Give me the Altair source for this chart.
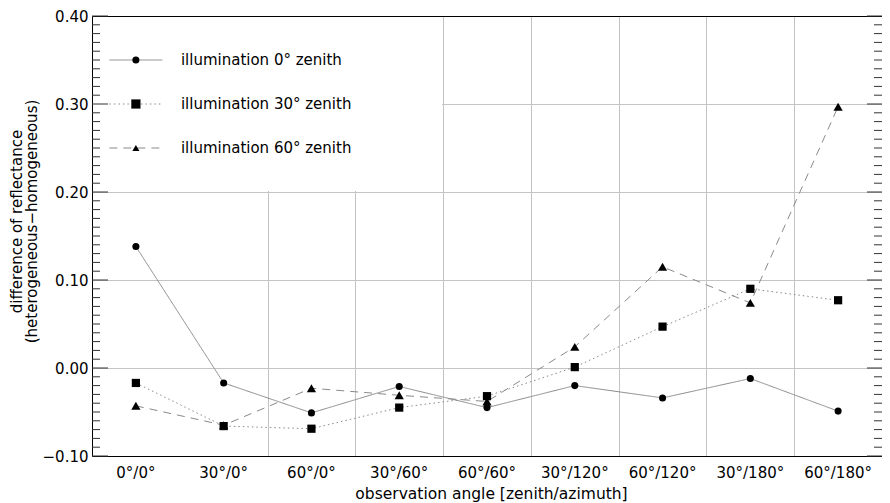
import altair as alt
import pandas as pd

# ---------------- data ----------------
obs = ["0°/0°", "30°/0°", "60°/0°", "30°/60°", "60°/60°",
       "30°/120°", "60°/120°", "30°/180°", "60°/180°"]
series = ["illumination 0° zenith", "illumination 30° zenith", "illumination 60° zenith"]
illum_0 = [0.138, -0.017, -0.051, -0.021, -0.045, -0.020, -0.034, -0.012, -0.049]
illum_30 = [-0.017, -0.066, -0.069, -0.045, -0.032, 0.001, 0.047, 0.090, 0.077]
illum_60 = [-0.043, -0.065, -0.023, -0.031, -0.038, 0.024, 0.115, 0.074, 0.297]
legend_y = [0.35, 0.30, 0.25]
y_labels = [-0.1, 0.0, 0.1, 0.2, 0.3, 0.4]
y_minor = [round(-0.1 + 0.01 * i, 2) for i in range(51) if i % 10 != 0]

df = pd.DataFrame({
    "obs": obs * 3,
    "series": [s for s in series for _ in obs],
    "value": illum_0 + illum_30 + illum_60,
})

W, H = 790, 440
FONT = "DejaVu Sans"
FS = 15
LINE_GREY = "#8a8a8a"
GRID_GREY = "#c4c4c4"

dashes = [[1, 0], [1.5, 3], [8, 6]]
shapes = ["circle", "square", "triangle-up"]
sizes = [50, 85, 50]

x_scale = alt.Scale(domain=obs, paddingInner=0, paddingOuter=0)
y_scale = alt.Scale(domain=[-0.1, 0.4], nice=False, zero=False)

y_axis = alt.Axis(
    values=y_labels, format=".2f", tickSize=0, labelPadding=4,
    grid=True,
    gridColor={"condition": {"test": "datum.value > 0.35 || datum.value < -0.05",
                             "value": "transparent"}, "value": GRID_GREY},
    domainColor="black",
    title=["difference of reflectance", "(heterogeneous−homogeneous)"],
    titlePadding=3, titleFontSize=15, titleLineHeight=15, titleY=205,
)


def Y():
    return alt.Y("value:Q", scale=y_scale, axis=y_axis)


x_bottom = alt.Axis(orient="bottom", labelAngle=0, tickSize=0, labelPadding=9,
                    title="observation angle [zenith/azimuth]", titlePadding=6,
                    titleFontSize=15.5, titleX=W / 2 + 4, titleAlign="center",
                    grid=False, domainColor="black")
x_top = alt.Axis(orient="top", labels=False, ticks=False, title=None,
                 grid=True, tickBand="extent",
                 gridColor={"condition": {"test": "datum.value == '0°/0°'",
                                          "value": "transparent"}, "value": GRID_GREY},
                 domainColor="black")

shape_scale = alt.Scale(domain=series, range=shapes)
size_scale = alt.Scale(domain=series, range=sizes)
dash_scale = alt.Scale(domain=series, range=dashes)

bw = W / len(obs)
cx = bw / 2

# white box behind the legend (hides grid there)
blank = alt.Chart(pd.DataFrame({"a": [0]})).mark_rect(color="white").encode(
    x=alt.value(1), x2=alt.value(4 * bw - 1), y=alt.value(1), y2=alt.value(H * 0.4 - 1)
)

lines = alt.Chart(df).mark_line(color=LINE_GREY, strokeWidth=1).encode(
    x=alt.X("obs:N", scale=x_scale, axis=x_top, sort=obs),
    y=Y(),
    strokeDash=alt.StrokeDash("series:N", scale=dash_scale, legend=None),
    detail="series:N",
)

points = alt.Chart(df).mark_point(filled=True, color="black", opacity=1).encode(
    x=alt.X("obs:N", scale=x_scale, axis=x_bottom, sort=obs),
    y=Y(),
    shape=alt.Shape("series:N", scale=shape_scale, legend=None),
    size=alt.Size("series:N", scale=size_scale, legend=None),
)

minor_df = pd.DataFrame({"value": y_minor})
major_df = pd.DataFrame({"value": y_labels})
TICK = "#333333"
tick_layers = [
    alt.Chart(minor_df).mark_rule(color=TICK).encode(y=Y(), x=alt.value(0), x2=alt.value(8)),
    alt.Chart(major_df).mark_rule(color=TICK).encode(y=Y(), x=alt.value(0), x2=alt.value(16)),
    alt.Chart(minor_df).mark_rule(color=TICK).encode(y=Y(), x=alt.value(W - 8), x2=alt.value(W)),
    alt.Chart(major_df).mark_rule(color=TICK).encode(y=Y(), x=alt.value(W - 15), x2=alt.value(W)),
]

# manual legend
legend_layers = []
for s, ly, d, sh, sz in zip(series, legend_y, dashes, shapes, sizes):
    ldf = pd.DataFrame({"obs": [obs[0]], "value": [ly], "label": [s]})
    legend_layers.append(
        alt.Chart(ldf).mark_rule(color=LINE_GREY, strokeWidth=1, strokeDash=d).encode(
            x=alt.value(cx - 26.5), x2=alt.value(cx + 26.5), y=Y())
    )
    legend_layers.append(
        alt.Chart(ldf).mark_point(filled=True, color="black", opacity=1, shape=sh, size=sz).encode(
            x=alt.X("obs:N", scale=x_scale, axis=None), y=Y())
    )
    legend_layers.append(
        alt.Chart(ldf).mark_text(align="left", baseline="middle", dx=45, font=FONT,
                                 fontSize=15, color="black").encode(
            x=alt.X("obs:N", scale=x_scale, axis=None), y=Y(), text="label:N")
    )

chart = alt.layer(blank, lines, points, *tick_layers, *legend_layers).resolve_axis(
    x="independent"
).properties(
    width=W, height=H,
    autosize=alt.AutoSizeParams(type="none"),
    padding={"left": 84, "top": 8, "right": 0, "bottom": 47},
).configure_view(stroke=None).configure_axis(
    labelFont=FONT, titleFont=FONT, labelFontSize=FS,
    labelColor="black", titleColor="black", titleFontWeight="normal",
    gridWidth=1,
)

chart.save("out.html", embed_options={"renderer": "svg", "actions": False})
